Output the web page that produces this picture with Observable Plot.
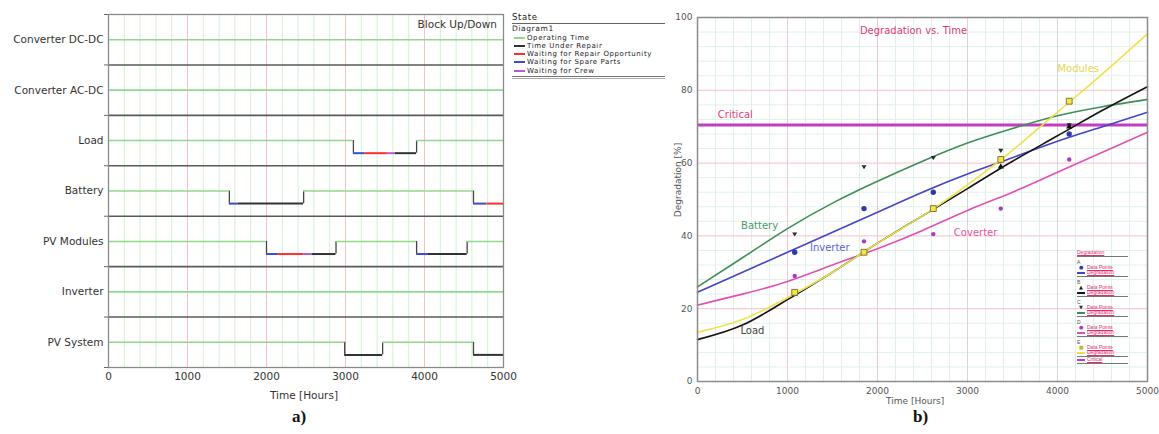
<!DOCTYPE html>
<html><head><meta charset="utf-8">
<script src="https://cdn.jsdelivr.net/npm/d3@7"></script>
<script src="https://cdn.jsdelivr.net/npm/@observablehq/plot@0.6"></script>
<style>
body{margin:0;background:#fff;width:1159px;height:434px;position:relative;overflow:hidden;font-family:"DejaVu Sans",sans-serif;}
.abs{position:absolute;white-space:nowrap;}
</style></head><body>
<div id="left" class="abs" style="left:0;top:0"></div>
<div id="right" class="abs" style="left:660px;top:0"></div>
<script>
// ---------- Panel a) data ----------
const blocks = ["Converter DC-DC","Converter AC-DC","Load","Battery","PV Modules","Inverter","PV System"];
const stateNames = ["Operating Time","Time Under Repair","Waiting for Repair Opportunity","Waiting for Spare Parts","Waiting for Crew"];
const stateColors = ["#90d890","#333333","#ff2e2e","#3c4cc4","#b45cd2"];
// [start hour, end hour, state index]
const dcdcSegs = [[0,5000,0]];
const acdcSegs = [[0,5000,0]];
const loadSegs = [[0,3100,0],[3100,3250,3],[3250,3530,2],[3530,3630,4],[3630,3900,1],[3900,5000,0]];
const batterySegs = [[0,1530,0],[1530,1640,3],[1640,2470,1],[2470,4620,0],[4620,4790,3],[4790,5000,2]];
const pvModSegs = [[0,2000,0],[2000,2150,3],[2150,2470,2],[2470,2580,4],[2580,2880,1],[2880,3900,0],[3900,4050,3],[4050,4540,1],[4540,5000,0]];
const inverterSegs = [[0,5000,0]];
const pvSysSegs = [[0,2990,0],[2990,3470,1],[3470,4620,0],[4620,5000,1]];
const timeTicksA = [0,1000,2000,3000,4000,5000];

// ---------- Panel b) data ----------
const curveHours = [0,500,1000,1500,2000,2500,3000,3500,4000,4500,5000];
const batteryCurve  = [26,34,42,49,55,60.5,65.5,69.5,73,75.5,77.5];
const inverterCurve = [24.5,30,35.5,41,46.5,52,57,61.5,66,70,74];
const converterCurve= [21,24,27.5,32,36.5,41.5,47,52,57.5,63,68.5];
const loadCurve     = [11.5,15.5,22.5,30,38,45.5,53,60.5,67.5,74.5,81];
const modulesCurve  = [13.5,17,23,30,38,45.5,54,63.5,74,84.5,95.5];
const pointHours = [1080,1850,2620,3370,4130];
const inverterPts  = [35.5,47.5,52,61,68];
const loadPts      = [24,35.5,47.5,59,70];
const batteryPts   = [40.5,59,61.5,63.5,70.5];
const converterPts = [29,38.5,40.5,47.5,61];
const modulesPts   = [24.5,35.5,47.5,61,77];
const critical = 70.5;
const seriesNames  = ["Battery","Inverter","Coverter","Load","Modules"];
const seriesColors = ["#3c8f55","#4444c4","#e052b2","#151515","#eee24a"];
const labelColors  = ["#3f9c66","#5a66d6","#e8559a","#444444","#e2d84e"];
const labelHours   = [690,1470,3090,610,4230];
const labelValues  = [42.9,36.8,40.9,14,86];
const timeTicksB = [0,1000,2000,3000,4000,5000];
const degTicks = [0,20,40,60,80,100];

// ---------- Panel a) ----------
const allSegs = [dcdcSegs,acdcSegs,loadSegs,batterySegs,pvModSegs,inverterSegs,pvSysSegs];
const segs = [], drops = [];
allSegs.forEach((list,i)=>{
  list.forEach(([a,b,s],k)=>{
    segs.push({x1:a,x2:b,y:i+(s===0?0.5:0.75),c:stateColors[s],w:s===0?1.6:2});
    if(k>0){const p=list[k-1][2]; if((p===0)!==(s===0)) drops.push({x:a,i});}
  });
});
const leftPlot = Plot.plot({
  width:528, height:434, marginLeft:108, marginRight:25, marginTop:14, marginBottom:67,
  x:{domain:[0,5000]}, y:{domain:[0,7], reverse:true},
  color:{type:"identity"},
  style:{fontFamily:"DejaVu Sans", fontSize:"10.5px", color:"#333", background:"transparent"},
  marks:[
    Plot.ruleX(d3.range(200,5000,200).filter(v=>v%1000), {stroke:"#d3efd3"}),
    Plot.ruleX([1000,2000,3000,4000], {stroke:"#f6c2c2"}),
    Plot.ruleY([1,2,3,4,5,6], {stroke:"#5a5a5a", strokeWidth:1.6}),
    Plot.ruleX(drops, {x:"x", y1:d=>d.i+0.5, y2:d=>d.i+0.75, stroke:"#444", strokeWidth:1.3}),
    Plot.ruleY(segs, {y:"y", x1:"x1", x2:"x2", stroke:"c", strokeWidth:"w"}),
    Plot.frame({stroke:"#8a8a8a", strokeWidth:1.3}),
    Plot.axisX(timeTicksA, {tickSize:0, tickPadding:5, tickFormat:d=>String(d), label:null}),
    Plot.axisY(blocks.map((b,i)=>i+0.5), {tickSize:0, tickPadding:5, tickFormat:d=>blocks[Math.floor(d)], label:null}),
    Plot.axisY([0,1,2,3,4,5,6,7], {tickSize:4, tickFormat:()=>"", label:null, stroke:"#666"})
  ]
});
document.getElementById("left").appendChild(leftPlot);

// ---------- Panel b) ----------
const curves = [batteryCurve,inverterCurve,converterCurve,loadCurve,modulesCurve];
const curveData = [];
curves.forEach((arr,si)=>arr.forEach((v,k)=>curveData.push({h:curveHours[k],v,s:si,c:seriesColors[si]})));
const pts = (arr)=>arr.map((v,k)=>({h:pointHours[k],v}));
const invTri = {draw(ctx,size){const r=Math.sqrt(size)/2; ctx.moveTo(-r*1.1,-r*0.7); ctx.lineTo(r*1.1,-r*0.7); ctx.lineTo(0,r*1.1); ctx.closePath();}};
const labels = seriesNames.map((n,i)=>({n,h:labelHours[i],v:labelValues[i],c:labelColors[i]}));
const rightPlot = Plot.plot({
  width:499, height:434, marginLeft:37, marginRight:12, marginTop:17, marginBottom:53,
  x:{domain:[0,5000]}, y:{domain:[0,100]},
  color:{type:"identity"},
  style:{fontFamily:"DejaVu Sans", fontSize:"9px", color:"#555", background:"transparent"},
  marks:[
    Plot.ruleX(d3.range(200,5000,200).filter(v=>v%1000), {stroke:"#e0f1ea"}),
    Plot.ruleY(d3.range(4,100,4).filter(v=>v%20), {stroke:"#e0f1ea"}),
    Plot.ruleX([1000,2000], {stroke:"#f5c6d2"}),
    Plot.ruleX([3000,4000], {stroke:"#d6d6d6"}),
    Plot.ruleY([20,40,60,80], {stroke:"#f6bfcd"}),
    Plot.ruleY([critical], {stroke:"#c43cc0", strokeWidth:3}),
    Plot.line(curveData, {x:"h", y:"v", z:"s", stroke:"c", strokeWidth:1.6, curve:"natural"}),
    Plot.dot(pts(inverterPts), {x:"h", y:"v", r:2.7, fill:"#2e3aa8"}),
    Plot.dot(pts(converterPts), {x:"h", y:"v", r:2.2, fill:"#a23ec4"}),
    Plot.dot(pts(batteryPts), {x:"h", y:"v", symbol:invTri, r:2.6, fill:"#1d3324"}),
    Plot.dot(pts(loadPts), {x:"h", y:"v", symbol:"triangle", r:2.3, fill:"#111"}),
    Plot.dot(pts(modulesPts), {x:"h", y:"v", symbol:"square", r:3.3, fill:"#f2e64e", stroke:"#8f7a20", strokeWidth:1}),
    Plot.text(labels, {x:"h", y:"v", text:"n", fill:"c", fontSize:10}),
    Plot.text(["Critical"], {x:420, y:73.2, fill:"#e2407a", fontSize:10}),
    Plot.text(["Degradation vs. Time"], {x:2400, y:96.4, fill:"#e23c78", fontSize:10}),
    Plot.frame({stroke:"#8c8c8c", strokeWidth:1.5}),
    Plot.axisX(timeTicksB, {tickSize:0, tickPadding:6, tickFormat:d=>String(d), label:null}),
    Plot.axisY(degTicks, {tickSize:0, tickPadding:5, label:null})
  ]
});
document.getElementById("right").appendChild(rightPlot);

// ---------- HTML texts ----------
function addText(txt, css){const d=document.createElement("div"); d.className="abs"; d.textContent=txt; d.style.cssText+=css; document.body.appendChild(d); return d;}
addText("Block Up/Down","right:662px;top:18px;font-size:10.5px;color:#333;");
addText("Time [Hours]","left:270px;top:389px;font-size:10.5px;color:#333;");
addText("a)","left:292px;top:407px;font-family:'Liberation Serif';font-weight:bold;font-size:17px;color:#111;");
addText("b)","left:913px;top:407px;font-family:'Liberation Serif';font-weight:bold;font-size:17px;color:#111;");
addText("Time [Hours]","left:886px;top:396px;font-size:9px;line-height:10px;color:#555;");
addText("Degradation [%]","left:638px;top:175px;font-size:9px;color:#555;width:80px;text-align:center;transform:rotate(-90deg);");

// left legend
const lf = "font-family:'DejaVu Sans';color:#1a1a1a;letter-spacing:0.6px;";
addText("State", lf+"left:512px;top:13px;font-size:8.5px;line-height:9px;");
addText("", "left:512px;top:23px;width:153px;height:0;border-top:1.5px solid #666;");
addText("Diagram1", lf+"left:512px;top:25px;font-size:7.5px;line-height:8px;");
stateNames.forEach((n,i)=>{
  const y = 37.5 + i*8.3;
  addText("", `left:514px;top:${y-1}px;width:11px;height:0;border-top:2px solid ${stateColors[i]};`);
  addText(n, lf+`left:527px;top:${y-4}px;font-size:7px;line-height:8px;`);
});
addText("", "left:512px;top:76px;width:153px;height:1px;border-top:1px solid #777;border-bottom:1px solid #aaa;");

// right mini legend
const rc = "#e2306c";
const mf = `font-family:'Liberation Sans';color:${rc};font-size:5px;line-height:5px;text-decoration:underline;`;
addText("Degradation", mf+"left:1077px;top:250px;");
addText("", "left:1077px;top:256px;width:51px;height:0;border-top:1px solid #777;");
const glyphs = ["●","▲","▼","●","■"];
const glyphColors = ["#2e3aa8","#111","#1d3324","#a23ec4","#c8b830"];
const order = [1,3,0,2,4]; // A Inverter, B Load, C Battery, D Converter, E Modules
["A","B","C","D","E"].forEach((L,k)=>{
  const si = order[k];
  const y0 = 260 + k*20;
  addText(L, `font-family:'Liberation Sans';font-size:5px;line-height:5px;color:#555;left:1077px;top:${y0}px;`);
  addText(glyphs[k], `font-size:5px;line-height:5px;color:${glyphColors[k]};left:1079px;top:${y0+5}px;`);
  addText("Data Points", mf+`left:1087px;top:${y0+5}px;`);
  addText("", `left:1077px;top:${y0+12}px;width:8px;height:0;border-top:2px solid ${seriesColors[si]};`);
  addText("Degradation", mf+`left:1087px;top:${y0+10}px;`);
  addText("", `left:1077px;top:${y0+16}px;width:51px;height:0;border-top:1px solid #777;`);
});
addText("", "left:1077px;top:359px;width:8px;height:0;border-top:2px solid #c43cc0;");
addText("Critical", mf+"left:1087px;top:357px;");
addText("", "left:1077px;top:363px;width:51px;height:0;border-top:1px solid #777;");
</script>
</body></html>
